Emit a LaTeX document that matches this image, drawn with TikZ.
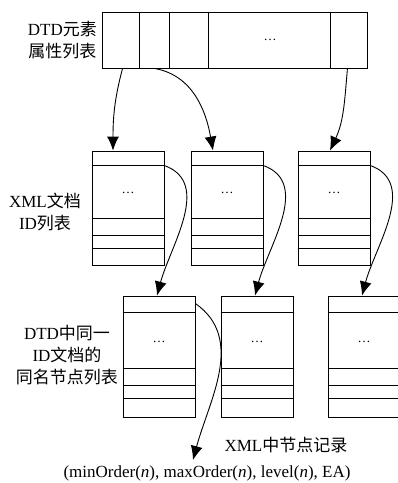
\documentclass[tikz,border=0pt]{standalone}
\usepackage{fontspec}
\setmainfont{Liberation Serif}
\newfontfamily\cjk{Noto Sans CJK SC}
\newcommand{\zh}[1]{{\cjk #1}}
\usetikzlibrary{arrows.meta, positioning}

\tikzset{
  cell/.style={draw, line width=0.9pt, minimum width=72pt, inner sep=0pt},
  idlist/.style={cell, minimum height=114pt},
  ndlist/.style={cell, minimum height=121pt},
  note/.style={font=\fontsize{17}{22}\selectfont, align=center, inner sep=0pt},
  dotstxt/.style={font=\fontsize{13}{13}\selectfont, inner sep=0pt},
  link/.style={-{Latex[length=14pt,width=12pt]}, line width=0.9pt}
}

\begin{document}
\begin{tikzpicture}[x=1pt, y=1pt]
  \useasboundingbox (0,0) rectangle (398,-483);

  % DTD attribute list
  \node[draw, line width=0.9pt, minimum width=265pt, minimum height=56pt, inner sep=0pt] (attr) at (234.5,-40) {};
  \foreach \x in {139,169,208,330}
    \draw[line width=0.9pt] (\x,0 |- attr.north) -- (\x,0 |- attr.south);
  \node[dotstxt] (attrdots) at (270,-40) {\dots};
  \node[note, anchor=east] (attrlbl) at (97,-40) {DTD\zh{元素}\\\zh{属性列表}};

  % XML document ID lists
  \node[note] (idlbl) at (45,-212) {XML\zh{文档}\\ID\zh{列表}};
  \foreach \i/\x in {1/128,2/227,3/334} {
    \node[idlist] (id\i) at (\x,-208) {};
    \foreach \d in {15,68,85,98}
      \draw[line width=0.9pt] ([yshift=-\d pt]id\i.north west) -- ([yshift=-\d pt]id\i.north east);
    \node[dotstxt] (iddots\i) at ([yshift=-42pt]id\i.north) {\dots};
  }

  % same-name node lists
  \node[note] (ndlbl) at (67,-355) {DTD\zh{中同一}\\ID\zh{文档的}\\\zh{同名节点列表}};
  \foreach \i/\x in {1/159,2/257,3/364} {
    \node[ndlist] (nd\i) at (\x,-356.5) {};
    \foreach \d in {17,73,90,103}
      \draw[line width=0.9pt] ([yshift=-\d pt]nd\i.north west) -- ([yshift=-\d pt]nd\i.north east);
    \node[dotstxt] (nddots\i) at ([yshift=-46pt]nd\i.north) {\dots};
  }

  % node record
  \node[note] (recname) at (286,-445) {XML\zh{中节点记录}};
  \node[note] (rec) at (207,-473) {(minOrder(\textit{n}), maxOrder(\textit{n}), level(\textit{n}), EA)};
  \coordinate (reclink) at (193,-460);

  \draw[link] ([xshift=21pt]attr.south west) to[out=255,in=90] ([xshift=-15pt]id1.north);
  \draw[link] ([xshift=53pt]attr.south west) to[out=-10,in=100] ([xshift=-14pt]id2.north);
  \draw[link] ([xshift=-20pt]attr.south east) to[out=265,in=65] ([xshift=-4pt]id3.north);
  \foreach \i in {1,2,3}
    \draw[link] ([yshift=-15pt]id\i.north east) to[out=-20,in=75] ([xshift=-2pt]nd\i.north);
  \draw[link] ([yshift=-8pt]nd1.north east) to[out=-35,in=75] (reclink);
\end{tikzpicture}
\end{document}
